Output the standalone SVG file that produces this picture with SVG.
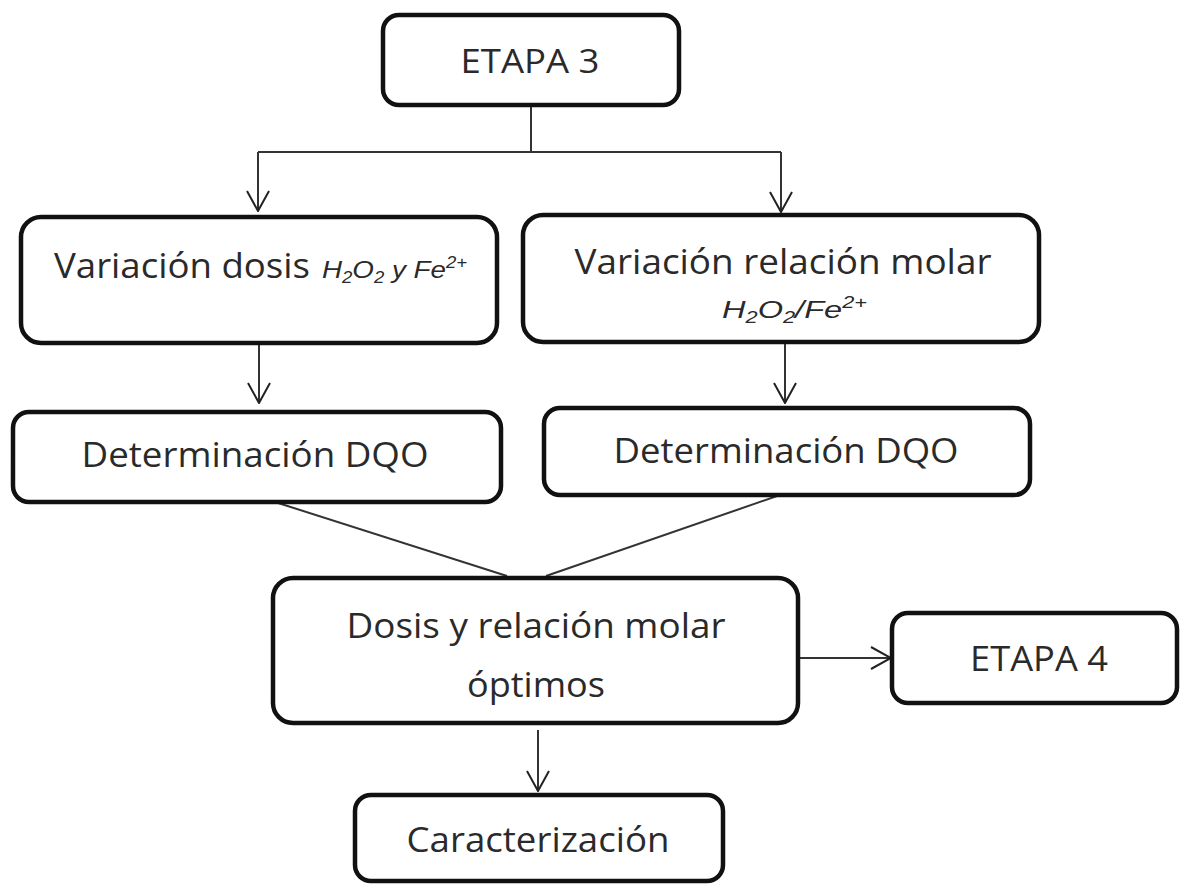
<svg xmlns="http://www.w3.org/2000/svg" width="1181" height="884" viewBox="0 0 1181 884">
<style>
.box{fill:#fff;stroke:#111;stroke-width:4.5}
.t{font-family:"Open Sans","Noto Sans",sans-serif;fill:#2a2a2a;text-anchor:middle}
.f{font-family:"Liberation Sans",Arial,sans-serif;font-style:italic;fill:#2a2a2a}
.c{fill:none;stroke:#333;stroke-width:2}
</style>
<defs>
<marker id="arr" markerUnits="userSpaceOnUse" viewBox="0 0 22 24" refX="21" refY="12" markerWidth="22" markerHeight="24" orient="auto">
<path d="M1,1 L21,12 L1,23" fill="none" stroke="#222" stroke-width="2"/>
</marker>
</defs>
<rect width="1181" height="884" fill="#fff"/>
<g id="connectors">
<line class="c" x1="531" y1="105" x2="531" y2="152"/>
<line class="c" x1="258" y1="152" x2="781" y2="152"/>
<line class="c" x1="258" y1="152" x2="258" y2="211" marker-end="url(#arr)"/>
<line class="c" x1="781" y1="152" x2="781" y2="212" marker-end="url(#arr)"/>
<line class="c" x1="259" y1="343" x2="259" y2="403" marker-end="url(#arr)"/>
<line class="c" x1="785" y1="342" x2="785" y2="403" marker-end="url(#arr)"/>
<line class="c" x1="275" y1="502" x2="507" y2="576"/>
<line class="c" x1="780" y1="495" x2="546" y2="576"/>
<line class="c" x1="800" y1="658" x2="891" y2="658" marker-end="url(#arr)"/>
<line class="c" x1="538" y1="730" x2="538" y2="791" marker-end="url(#arr)"/>
</g>
<g id="etapa3">
<rect class="box" x="383" y="15" width="296" height="90" rx="16"/>
<text class="t" x="530" y="73" font-size="32" textLength="139" lengthAdjust="spacingAndGlyphs">ETAPA 3</text>
</g>
<g id="variacion-dosis">
<rect class="box" x="21" y="217" width="476" height="126" rx="20"/>
<text class="t" x="182" y="278" font-size="35" textLength="256" lengthAdjust="spacingAndGlyphs">Variación dosis</text>
<text class="f" x="322" y="278" font-size="24" textLength="145" lengthAdjust="spacingAndGlyphs">H<tspan font-size="16" dy="5">2</tspan><tspan dy="-5">O</tspan><tspan font-size="16" dy="5">2</tspan><tspan dy="-5"> y Fe</tspan><tspan font-size="16" dy="-10">2+</tspan></text>
</g>
<g id="variacion-relacion">
<rect class="box" x="523" y="215" width="516" height="127" rx="20"/>
<text class="t" x="783" y="274" font-size="35" textLength="417" lengthAdjust="spacingAndGlyphs">Variación relación molar</text>
<text class="f" x="722" y="318" font-size="24" textLength="145" lengthAdjust="spacingAndGlyphs">H<tspan font-size="16" dy="5">2</tspan><tspan dy="-5">O</tspan><tspan font-size="16" dy="5">2</tspan><tspan dy="-5">/Fe</tspan><tspan font-size="16" dy="-10">2+</tspan></text>
</g>
<g id="dqo-left">
<rect class="box" x="13" y="412" width="488" height="90" rx="16"/>
<text class="t" x="255" y="467" font-size="34" textLength="347" lengthAdjust="spacingAndGlyphs">Determinación DQO</text>
</g>
<g id="dqo-right">
<rect class="box" x="544" y="408" width="486" height="87" rx="16"/>
<text class="t" x="786" y="463" font-size="34" textLength="345" lengthAdjust="spacingAndGlyphs">Determinación DQO</text>
</g>
<g id="optimos">
<rect class="box" x="273" y="578" width="525" height="145" rx="20"/>
<text class="t" x="536" y="638" font-size="35" textLength="379" lengthAdjust="spacingAndGlyphs">Dosis y relación molar</text>
<text class="t" x="536" y="697" font-size="35" textLength="138" lengthAdjust="spacingAndGlyphs">óptimos</text>
</g>
<g id="etapa4">
<rect class="box" x="892" y="613" width="285" height="90" rx="16"/>
<text class="t" x="1039" y="671" font-size="35" textLength="138" lengthAdjust="spacingAndGlyphs">ETAPA 4</text>
</g>
<g id="caracterizacion">
<rect class="box" x="355" y="795" width="368" height="86" rx="16"/>
<text class="t" x="538" y="852" font-size="35" textLength="263" lengthAdjust="spacingAndGlyphs">Caracterización</text>
</g>
</svg>
